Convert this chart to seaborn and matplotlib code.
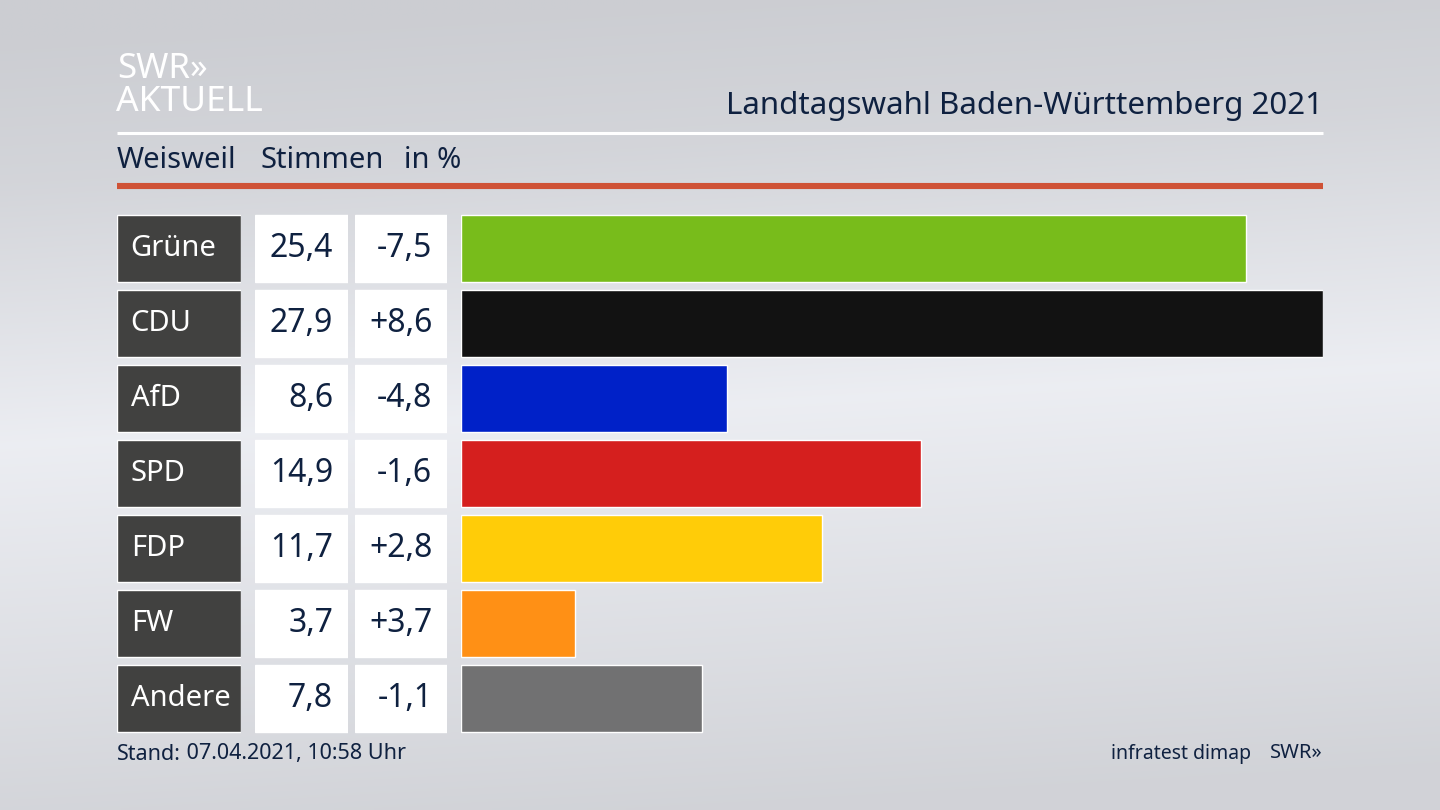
"""Landtagswahl Baden-Wuerttemberg 2021, Weisweil: vote shares as bars."""

import numpy as np
import pandas as pd
import matplotlib
matplotlib.use("Agg")  # non-interactive backend
import matplotlib.pyplot as plt
import seaborn as sns

parties = ["Grüne", "CDU", "AfD", "SPD", "FDP", "FW", "Andere"]
votes = [25.4, 27.9, 8.6, 14.9, 11.7, 3.7, 7.8]
changes = ["-7,5", "+8,6", "-4,8", "-1,6", "+2,8", "+3,7", "-1,1"]
bar_colors = ["#78BC1B", "#121212", "#0021C8", "#D51F1E", "#FFCC08", "#FF9015", "#717172"]

NAVY = "#0F2140"
W, H = 1440, 810

sns.set_theme(style="white")
plt.rcParams["font.family"] = ["Noto Sans", "DejaVu Sans"]

df = pd.DataFrame({"party": parties, "votes": votes, "cell": [1] * len(parties)})


def px_axes(fig, left, right, top, bottom):
    return fig.add_axes([left / W, 1 - bottom / H, (right - left) / W, (bottom - top) / H])


def column(fig, left, right, x_col, color):
    # one seaborn bar per party, rows share the same pixel grid
    ax = px_axes(fig, left, right, 211, 736)
    sns.barplot(data=df, y="party", x=x_col, order=parties, color=color,
                width=0.887, saturation=1, ax=ax)
    ax.set_ylim(6.5, -0.5)
    ax.set_xlim(0, df[x_col].max())
    ax.axis("off")
    return ax


fig = plt.figure(figsize=(W / 100, H / 100), dpi=100)

# background, lighter band through the middle
bg = px_axes(fig, 0, W, 0, H)
yy, xx = np.mgrid[0:1:200j, 0:1:200j]
shade = np.interp(yy + 0.10 * (xx - 0.5), [0, 0.18, 0.5, 0.82, 1], [0.80, 0.83, 0.925, 0.86, 0.82])
rgb = np.dstack([shade, shade + 0.006, shade + 0.025])
bg.imshow(np.clip(rgb, 0, 1), aspect="auto", extent=[0, W, H, 0], interpolation="bilinear")
bg.set_xlim(0, W)
bg.set_ylim(H, 0)
bg.axis("off")

# header
bg.text(117, 69, "SWR»", color="white", fontsize=25, fontweight="bold", va="center", ha="left")
bg.text(116, 102, "AKTUELL", color="white", fontsize=25.5, fontweight="bold", va="center", ha="left")
bg.plot([117, 1323], [133, 133], color="white", lw=2.2, solid_capstyle="butt")
bg.plot([117, 1323], [185.5, 185.5], color="#CF5236", lw=4.4, solid_capstyle="butt")

title = bg.text(1323, 106, "Baden-Württemberg 2021", color=NAVY, fontsize=22.5, va="center", ha="right")
bg.annotate("Landtagswahl ", xy=(0, 0.5), xycoords=title, color=NAVY, fontsize=22.5,
            fontweight="bold", va="center", ha="right")

bg.text(117, 160, "Weisweil", color=NAVY, fontsize=21, va="center", ha="left")
bg.text(260, 160, "Stimmen", color=NAVY, fontsize=21, va="center", ha="left")
bg.text(404, 160, "in %", color=NAVY, fontsize=21, va="center", ha="left")

# footer
stand = bg.text(117, 754, "Stand:", color=NAVY, fontsize=15.5, fontweight="bold", va="center", ha="left")
bg.annotate(" 07.04.2021, 10:58 Uhr", xy=(1, 0.5), xycoords=stand, color=NAVY, fontsize=15.5,
            va="center", ha="left")
bg.text(1251, 754, "infratest dimap", color=NAVY, fontsize=14, va="center", ha="right")
bg.text(1323, 753, "SWR»", color=NAVY, fontsize=14.5, fontweight="bold", va="center", ha="right")

# table columns
ax_name = column(fig, 117, 241, "cell", "#414140")
ax_vote = column(fig, 255, 348, "cell", "white")
ax_diff = column(fig, 355, 447, "cell", "white")

for i, party in enumerate(parties):
    ax_name.text(0.11, i, party, color="white", fontsize=21, va="center", ha="left")
    ax_vote.text(0.84, i, f"{votes[i]:.1f}".replace(".", ","), color=NAVY, fontsize=23, va="center", ha="right")
    ax_diff.text(0.84, i, changes[i], color=NAVY, fontsize=23, va="center", ha="right")

# vote bars
ax = px_axes(fig, 461, 1323, 211, 736)
sns.barplot(data=df, y="party", x="votes", hue="party", order=parties, hue_order=parties,
            palette=bar_colors, width=0.887, saturation=1, legend=False, ax=ax)
ax.set_ylim(6.5, -0.5)
ax.set_xlim(0, max(votes))
ax.axis("off")

fig.savefig("out.png", dpi=100)
plt.close(fig)
